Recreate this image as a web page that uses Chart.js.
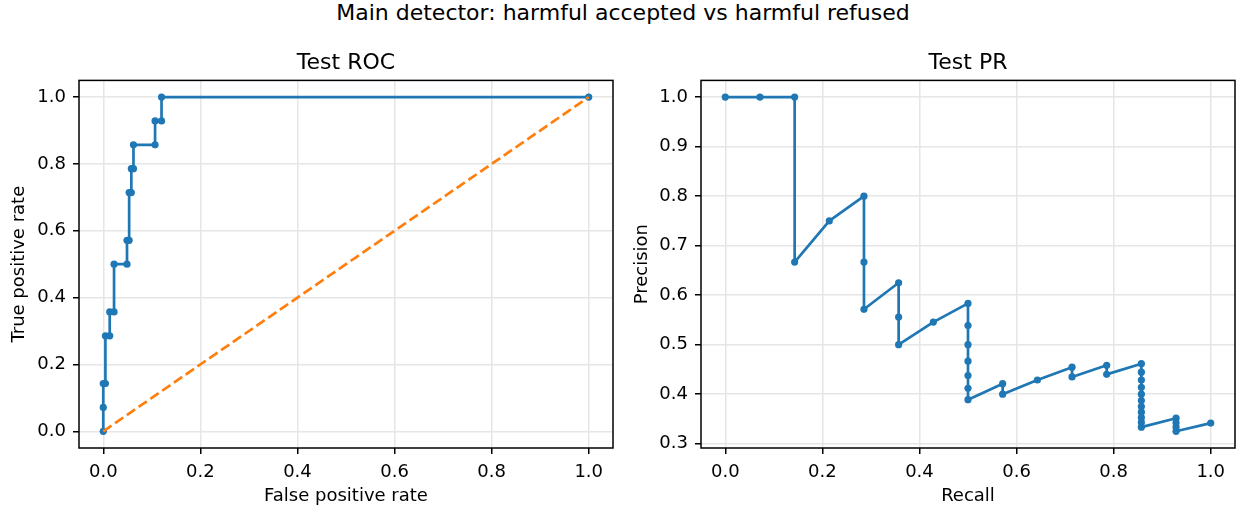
<!DOCTYPE html>
<html>
<head>
<meta charset="utf-8">
<script src="https://cdn.jsdelivr.net/npm/chart.js@4.4.1/dist/chart.umd.min.js"></script>
<style>
html, body { margin: 0; padding: 0; background: #fff; }
body { width: 1236px; height: 508px; position: relative; overflow: hidden; }
#sup { position: absolute; left: 0; top: 0; width: 1246px; text-align: center;
       font-family: "DejaVu Sans"; font-size: 22px; line-height: 26px; color: #000; white-space: nowrap; }
#c1 { position: absolute; left: 0; top: 0; }
#c2 { position: absolute; left: 625px; top: 0; }
</style>
</head>
<body>
<div id="sup">Main detector: harmful accepted vs harmful refused</div>
<canvas id="c1" width="630" height="508"></canvas>
<canvas id="c2" width="611" height="508"></canvas>
<script>
// ---- Data ----
const rocFpr = [0, 0, 0, 0.0044, 0.0044, 0.0133, 0.0133, 0.0222, 0.0222, 0.0489, 0.0489,
                0.0533, 0.0533, 0.0578, 0.0578, 0.0622, 0.0622, 0.1067, 0.1067, 0.12, 0.12, 1.0];
const rocTpr = [0, 0.0714, 0.1429, 0.1429, 0.2857, 0.2857, 0.3571, 0.3571, 0.5, 0.5, 0.5714,
                0.5714, 0.7143, 0.7143, 0.7857, 0.7857, 0.8571, 0.8571, 0.9286, 0.9286, 1.0, 1.0];
const chanceX = [0, 1];
const chanceY = [0, 1];

const prRecall = [0, 0.0714, 0.1429, 0.1429, 0.2143, 0.2857, 0.2857, 0.2857, 0.3571, 0.3571, 0.3571,
                  0.4286, 0.5, 0.5, 0.5, 0.5, 0.5, 0.5, 0.5, 0.5714, 0.5714, 0.6429, 0.7143, 0.7143,
                  0.7857, 0.7857, 0.8571, 0.8571, 0.8571, 0.8571, 0.8571, 0.8571, 0.8571, 0.8571,
                  0.8571, 0.8571, 0.8571, 0.9286, 0.9286, 0.9286, 0.9286, 1.0];
const prPrecision = [1, 1, 1, 0.6667, 0.75, 0.8, 0.6667, 0.5714, 0.625, 0.5556, 0.5,
                     0.5455, 0.5833, 0.5385, 0.5, 0.4667, 0.4375, 0.4118, 0.3889, 0.4211, 0.4, 0.4286, 0.4545, 0.4348,
                     0.4583, 0.44, 0.4615, 0.4444, 0.4286, 0.4138, 0.4, 0.3871, 0.375, 0.3636,
                     0.3529, 0.3429, 0.3333, 0.3514, 0.3421, 0.3333, 0.325, 0.3415];

const rocTicks = [0, 0.2, 0.4, 0.6, 0.8, 1.0];
const prXTicks = [0, 0.2, 0.4, 0.6, 0.8, 1.0];
const prYTicks = [0.3, 0.4, 0.5, 0.6, 0.7, 0.8, 0.9, 1.0];
const tickLabel = v => v.toFixed(1);

// ---- Styling ----
const FONT = 'DejaVu Sans';
const BLUE = '#1f77b4';
const ORANGE = '#ff7f0e';
const GRID = '#e6e6e6';

const framePlugin = {
  id: 'frame',
  afterDraw(chart) {
    const { ctx, chartArea: a } = chart;
    ctx.save();
    ctx.strokeStyle = '#000';
    ctx.lineWidth = 1.5;
    ctx.strokeRect(a.left, a.top, a.right - a.left, a.bottom - a.top);
    ctx.restore();
  }
};

function axis(min, max, ticks, label, fitProp, fitVal, tickPad, titlePad) {
  return {
    type: 'linear', min, max,
    afterFit(s) { s[fitProp] = fitVal; },
    afterBuildTicks(s) { s.ticks = ticks.map(v => ({ value: v })); },
    ticks: { callback: tickLabel, font: { family: FONT, size: 18 }, color: '#000',
             padding: tickPad, maxRotation: 0, autoSkip: false },
    grid: { color: GRID, lineWidth: 1.5, drawTicks: true, tickLength: 6,
            tickColor: '#000', tickWidth: 1.5 },
    border: { display: false },
    title: { display: true, text: label, color: '#000',
             font: { family: FONT, size: 18 }, padding: titlePad }
  };
}

function makeChart(id, cfg) {
  return new Chart(document.getElementById(id), {
    type: 'scatter',
    data: { datasets: cfg.datasets },
    options: {
      responsive: false, animation: false, devicePixelRatio: 1,
      layout: { padding: { left: 0, right: cfg.rightPad, top: 0, bottom: 0 }, autoPadding: false },
      plugins: {
        legend: { display: false }, tooltip: { enabled: false },
        title: { display: true, text: cfg.title, fullSize: false, color: '#000',
                 font: { family: FONT, size: 22, weight: 'normal' },
                 padding: { top: 50, bottom: 4 } }
      },
      scales: {
        x: axis(cfg.xMin, cfg.xMax, cfg.xTicks, cfg.xLabel, 'height', 60, 8, { top: 0, bottom: 1 }),
        y: axis(cfg.yMin, cfg.yMax, cfg.yTicks, cfg.yLabel, 'width', cfg.yWidth, 7, { top: cfg.yTitlePad, bottom: 0 })
      }
    },
    plugins: [framePlugin]
  });
}

function pts(xs, ys) { return xs.map((x, i) => ({ x, y: ys[i] })); }

const mainLine = {
  showLine: true, borderColor: BLUE, backgroundColor: BLUE, borderWidth: 2.7,
  pointRadius: 3.6, pointBorderWidth: 0, pointBackgroundColor: BLUE, pointHoverRadius: 3.6,
  tension: 0, borderJoinStyle: 'round', order: 2
};

makeChart('c1', {
  title: 'Test ROC', xLabel: 'False positive rate', yLabel: 'True positive rate',
  xMin: -0.05, xMax: 1.05, yMin: -0.05, yMax: 1.05,
  xTicks: rocTicks, yTicks: rocTicks, yWidth: 79, rightPad: 17, yTitlePad: 9,
  datasets: [
    Object.assign({ data: pts(rocFpr, rocTpr) }, mainLine),
    { data: pts(chanceX, chanceY), showLine: true, borderColor: ORANGE, borderWidth: 2.7,
      borderDash: [10, 4.3], pointRadius: 0, pointHoverRadius: 0, order: 1 }
  ]
});

makeChart('c2', {
  title: 'Test PR', xLabel: 'Recall', yLabel: 'Precision',
  xMin: -0.05, xMax: 1.05, yMin: 0.29125, yMax: 1.03375,
  xTicks: prXTicks, yTicks: prYTicks, yWidth: 76, rightPad: 1, yTitlePad: 7,
  datasets: [
    Object.assign({ data: pts(prRecall, prPrecision) }, mainLine)
  ]
});
</script>
</body>
</html>
